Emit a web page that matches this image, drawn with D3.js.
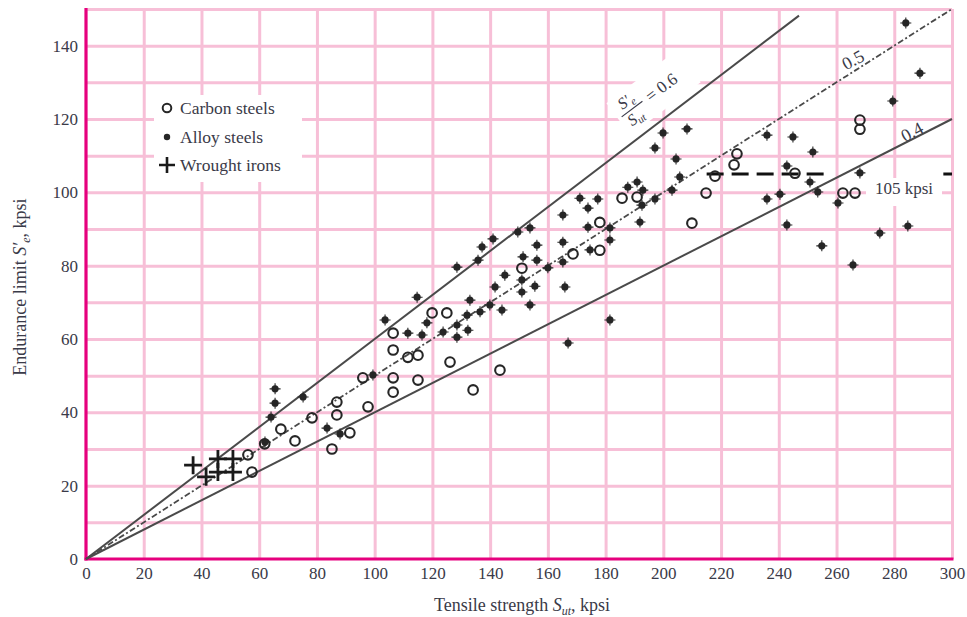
<!DOCTYPE html>
<html><head><meta charset="utf-8">
<script src="https://cdn.jsdelivr.net/npm/d3@7/dist/d3.min.js"></script>
<style>
html,body{margin:0;padding:0;background:#fff;}
svg text{font-family:"Liberation Serif","DejaVu Serif",serif;fill:#3a3a48;}
</style></head>
<body><svg id="chart" width="967" height="617"></svg>
<script>
// ---- data (kpsi) ----
const xTicks = [0,20,40,60,80,100,120,140,160,180,200,220,240,260,280,300];
const yTicks = [0,20,40,60,80,100,120,140];
const xGrid = [20,40,60,80,100,120,140,160,180,200,220,240,260,280,300];
const yGrid = [10,20,30,40,50,60,70,80,90,100,110,120,130,140,150];

const carbonSteels = [
 [56.1,28.4],[57.5,23.7],[61.9,31.4],[67.5,35.4],[72.4,32.2],[78.3,38.5],[86.9,42.8],[86.9,39.3],
 [91.4,34.4],[85.2,30.0],[95.9,49.4],[97.7,41.5],[106.4,61.6],[106.4,57.0],[106.4,49.4],[106.4,45.5],
 [111.5,55.0],[115.0,55.6],[115.0,48.8],[119.9,67.1],[125.0,67.1],[126.1,53.7],[134.1,46.1],[143.4,51.5],
 [151.0,79.3],[168.7,83.2],[178.0,84.2],[178.0,91.8],[185.7,98.4],[190.9,98.7],[209.9,91.6],[214.8,99.8],
 [217.9,104.4],[224.5,107.5],[225.5,110.5],[245.6,105.2],[262.2,99.8],[266.4,99.8],[268.1,119.7],[268.1,117.2]
];
const alloySteels = [
 [65.5,46.4],[65.5,42.5],[64.1,38.7],[75.2,44.2],[62.0,31.9],[83.5,35.7],[88.0,34.1],[99.4,50.2],
 [103.6,65.2],[111.5,61.6],[116.4,61.1],[114.7,71.4],[118.1,64.4],[123.7,61.9],[128.5,60.5],[128.5,63.8],
 [132.3,62.4],[132.0,66.5],[133.0,70.6],[136.5,67.4],[139.9,69.3],[144.1,67.9],[141.7,74.2],[145.1,77.4],
 [151.4,82.4],[156.2,81.5],[151.0,76.1],[155.5,74.4],[151.0,72.8],[153.8,69.3],[135.8,81.5],[137.2,85.1],
 [141.0,87.3],[128.5,79.6],[149.6,89.2],[153.8,90.3],[156.2,85.6],[160.0,79.4],[165.2,86.4],[165.2,93.8],
 [165.2,81.0],[165.9,74.2],[167.0,58.9],[171.1,98.4],[177.3,98.2],[173.9,95.7],[173.9,90.5],[174.6,84.3],
 [181.5,90.3],[181.5,87.0],[181.5,65.2],[187.7,101.4],[190.9,102.8],[192.9,100.6],[192.6,96.5],[191.9,91.9],
 [197.1,98.2],[203.0,100.6],[205.7,104.2],[204.4,109.1],[197.1,112.1],[199.9,116.2],[208.2,117.3],[235.9,115.6],
 [244.9,115.1],[251.8,111.0],[242.8,107.2],[250.8,102.8],[268.1,105.3],[253.5,100.1],[240.4,99.5],[235.9,98.2],
 [260.5,97.1],[242.8,91.1],[254.9,85.4],[265.7,80.2],[275.0,88.9],[284.7,90.8],[279.5,124.9],[288.9,132.5],
 [284.0,146.2]
];
const wroughtIrons = [[37.1,25.6],[41.6,22.4],[45.7,27.3],[50.9,27.3],[45.7,23.7],[50.9,23.7]];
const ratioLines = [
 {ratio:0.6, xEnd:247, style:"solid"},
 {ratio:0.5, xEnd:300, style:"dashdot"},
 {ratio:0.4, xEnd:300, style:"solid"}
];
const limitLine = {value:105, xStart:215, xEnd:300, label:"105 kpsi"};
const legendItems = ["Carbon steels","Alloy steels","Wrought irons"];

// ---- chart ----
const svg = d3.select("#chart");
const x = d3.scaleLinear().domain([0,300]).range([86,952]);
const y = d3.scaleLinear().domain([0,150]).range([559,9]);
const pinkGrid = "#f7bfd7", magenta = "#e6007e", ink = "#262626";
const tickFont = 17;

// grid via axes
svg.append("g").attr("transform",`translate(0,${y(0)})`)
  .call(d3.axisBottom(x).tickValues(xGrid).tickSize(-(y(0)-y(150))).tickFormat(""))
  .call(g=>{g.select(".domain").remove();g.selectAll("line").attr("stroke",pinkGrid).attr("stroke-width",3);});
svg.append("g").attr("transform",`translate(${x(0)},0)`)
  .call(d3.axisLeft(y).tickValues(yGrid).tickSize(-(x(300)-x(0))).tickFormat(""))
  .call(g=>{g.select(".domain").remove();g.selectAll("line").attr("stroke",pinkGrid).attr("stroke-width",3);});

// white backgrounds (legend, labels)
svg.append("rect").attr("x",154).attr("y",95).attr("width",148).attr("height",87).attr("fill","#fff");
svg.append("rect").attr("x",866).attr("y",178).attr("width",76).attr("height",28).attr("fill","#fff");

// axis lines
svg.append("line").attr("x1",x(0)).attr("x2",x(0)).attr("y1",y(150)-1).attr("y2",y(0)+1.5)
  .attr("stroke",magenta).attr("stroke-width",3.2);
svg.append("line").attr("x1",x(0)-1.5).attr("x2",x(300)+1.5).attr("y1",y(0)).attr("y2",y(0))
  .attr("stroke",magenta).attr("stroke-width",3.2);

// tick labels via axes
svg.append("g").attr("transform",`translate(0,${y(0)+3})`)
  .call(d3.axisBottom(x).tickValues(xTicks).tickSize(0).tickPadding(5))
  .call(g=>{g.select(".domain").remove();g.selectAll("text").attr("font-size",tickFont).attr("fill","#3a3a48").attr("font-family","Liberation Serif");});
svg.append("g").attr("transform",`translate(${x(0)-6},0)`)
  .call(d3.axisLeft(y).tickValues(yTicks).tickSize(0).tickPadding(2))
  .call(g=>{g.select(".domain").remove();g.selectAll("text").attr("font-size",tickFont).attr("fill","#3a3a48").attr("font-family","Liberation Serif");});

// ratio lines
ratioLines.forEach(r=>{
  svg.append("line").attr("x1",x(0)).attr("y1",y(0)).attr("x2",x(r.xEnd)).attr("y2",y(r.ratio*r.xEnd))
    .attr("stroke","#4a4a4a").attr("stroke-width",r.style==="solid"?2:1.8)
    .attr("stroke-dasharray",r.style==="solid"?null:"6,2.5,2,2.5");
});

// 105 kpsi line
svg.append("line").attr("x1",x(limitLine.xStart)).attr("x2",x(256)).attr("y1",y(limitLine.value)).attr("y2",y(limitLine.value))
  .attr("stroke","#111").attr("stroke-width",3).attr("stroke-dasharray","17,8");
svg.append("line").attr("x1",x(297)).attr("x2",x(limitLine.xEnd)).attr("y1",y(limitLine.value)).attr("y2",y(limitLine.value))
  .attr("stroke","#111").attr("stroke-width",3);
svg.append("text").attr("x",904).attr("y",194).attr("text-anchor","middle").attr("font-size",17).text(limitLine.label);

// labels for lines
svg.append("text").attr("x",853).attr("y",66).attr("text-anchor","middle").attr("font-size",18)
  .attr("transform","rotate(-28,853,60)").text("0.5");
svg.append("text").attr("x",912).attr("y",138).attr("text-anchor","middle").attr("font-size",18)
  .attr("transform","rotate(-28,912,132)").text("0.4");
const fr = svg.append("g").attr("transform","translate(652,94) rotate(-37)");
fr.append("rect").attr("x",-42).attr("y",-20).attr("width",88).attr("height",40).attr("fill","#fff");
const f1 = fr.append("text").attr("x",-25).attr("y",-5).attr("text-anchor","middle").attr("font-size",16).attr("font-style","italic");
f1.append("tspan").text("S′");
f1.append("tspan").attr("font-size",11).attr("dy",3).attr("font-style","italic").text("e");
fr.append("line").attr("x1",-38).attr("x2",-12).attr("y1",0).attr("y2",0).attr("stroke","#3a3a48").attr("stroke-width",1.2);
const f2 = fr.append("text").attr("x",-27).attr("y",14).attr("text-anchor","middle").attr("font-size",16).attr("font-style","italic");
f2.append("tspan").text("S");
f2.append("tspan").attr("font-size",11).attr("dy",3).text("ut");
fr.append("text").attr("x",-6).attr("y",6).attr("font-size",17).text("= 0.6");

// markers
svg.append("g").selectAll("circle").data(carbonSteels).join("circle")
  .attr("cx",d=>x(d[0])).attr("cy",d=>y(d[1])).attr("r",4.8)
  .attr("fill","none").attr("stroke",ink).attr("stroke-width",2.1);
const ag = svg.append("g");
ag.selectAll("circle").data(alloySteels).join("circle")
  .attr("cx",d=>x(d[0])).attr("cy",d=>y(d[1])).attr("r",3.6).attr("fill",ink);
ag.selectAll("path").data(alloySteels).join("path")
  .attr("d",d=>`M${x(d[0])-5.5},${y(d[1])}h11M${x(d[0])},${y(d[1])-5.5}v11`)
  .attr("stroke",ink).attr("stroke-width",1.1);
svg.append("g").selectAll("path").data(wroughtIrons).join("path")
  .attr("d",d=>`M${x(d[0])-9},${y(d[1])}h18M${x(d[0])},${y(d[1])-9}v18`)
  .attr("stroke","#1a1a1a").attr("stroke-width",2.8);

// legend
const lg = svg.append("g");
const ly = [108,137,165];
lg.append("circle").attr("cx",167).attr("cy",ly[0]).attr("r",4.3).attr("fill","none").attr("stroke",ink).attr("stroke-width",2);
lg.append("circle").attr("cx",167).attr("cy",ly[1]).attr("r",3.2).attr("fill",ink);
lg.append("path").attr("d",`M159,${ly[2]}h16M167,${ly[2]-8}v16`).attr("stroke","#1a1a1a").attr("stroke-width",2.6);
legendItems.forEach((t,i)=>{
  lg.append("text").attr("x",180).attr("y",ly[i]+5.5).attr("font-size",17.5).text(t);
});

// axis titles
const xt = svg.append("text").attr("x",522).attr("y",611).attr("text-anchor","middle").attr("font-size",18);
xt.append("tspan").text("Tensile strength ");
xt.append("tspan").attr("font-style","italic").text("S");
xt.append("tspan").attr("font-size",12).attr("dy",4).attr("font-style","italic").text("ut");
xt.append("tspan").attr("dy",-4).text(", kpsi");
const yt = svg.append("text").attr("transform","translate(26,287) rotate(-90)").attr("text-anchor","middle").attr("font-size",18);
yt.append("tspan").text("Endurance limit ");
yt.append("tspan").attr("font-style","italic").text("S′");
yt.append("tspan").attr("font-size",12).attr("dy",4).attr("font-style","italic").text("e");
yt.append("tspan").attr("dy",-4).text(", kpsi");
</script></body></html>
